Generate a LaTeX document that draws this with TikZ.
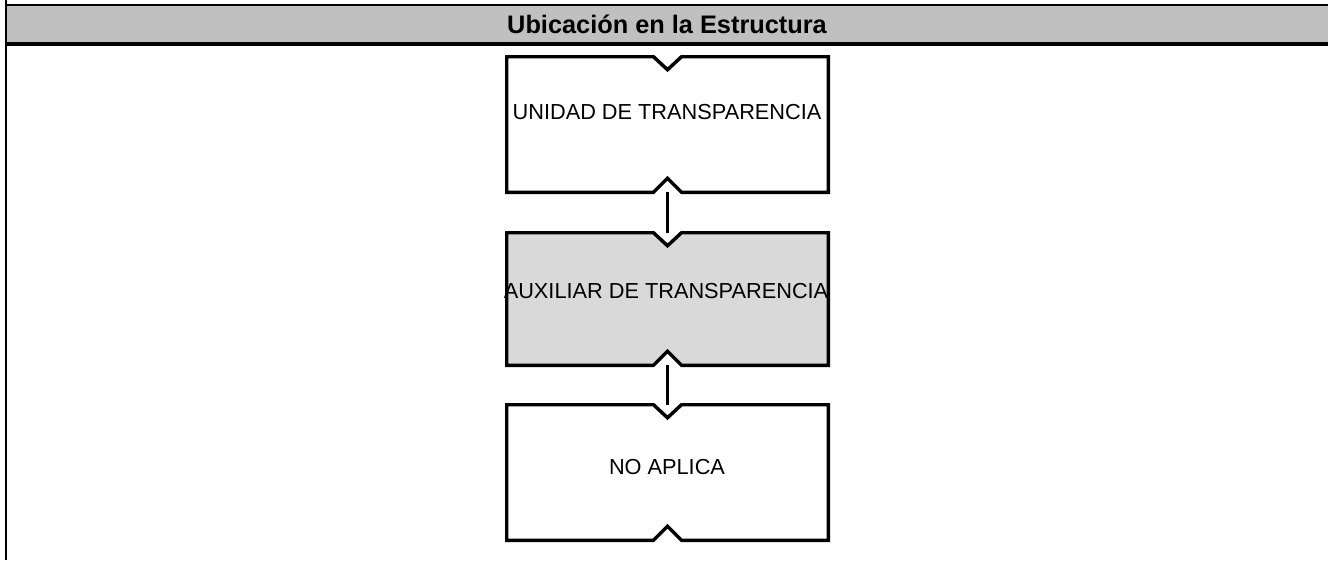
\documentclass[tikz,border=0pt]{standalone}
\usepackage{fontspec}
\setmainfont{Liberation Sans}
\usetikzlibrary{calc}
\definecolor{hdrgray}{HTML}{C0C0C0}
\definecolor{boxgray}{HTML}{D9D9D9}
\newcommand\notchbox[2]{%
  \filldraw[boxline, fill=#2]
    (#1.north west) -- ($(#1.north)+(-14,0)$) -- ($(#1.north)+(0,13)$) -- ($(#1.north)+(14,0)$)
    -- (#1.north east) -- (#1.south east)
    -- ($(#1.south)+(14,0)$) -- ($(#1.south)+(0,-14)$) -- ($(#1.south)+(-14,0)$)
    -- (#1.south west) -- cycle;}
\begin{document}
\begin{tikzpicture}[x=0.75pt,y=-0.75pt,
  boxline/.style={line width=2.6pt, line join=miter},
  conn/.style={line width=2.8pt},
  boxn/.style={rectangle, draw=none, inner sep=0pt, minimum width=240.75pt},
  lbl/.style={font=\fontsize{16.3}{19}\selectfont, inner sep=0pt}]
\useasboundingbox (0,0) rectangle (1328,561);
% header band
\fill[hdrgray] (6,5) rectangle (1328,44);
\draw[line width=1pt] (6,5) -- (1328,5);
\draw[line width=2.4pt] (6,44) -- (1328,44);
\draw[line width=2.2pt] (6,0) -- (6,560);
\node[font=\bfseries\fontsize{19}{22}\selectfont, inner sep=0pt] (title) at (667,24.5) {Ubicación en la Estructura};
% boxes
\node[boxn, minimum height=101.25pt] (b1) at (667.5,124.5) {};
\node[boxn, minimum height=99pt] (b2) at (667.5,299) {};
\node[boxn, minimum height=101.25pt] (b3) at (667.5,472.5) {};
\notchbox{b1}{white}
\notchbox{b2}{boxgray}
\notchbox{b3}{white}
\node[lbl] (t1) at (667,112) {UNIDAD DE TRANSPARENCIA};
\node[lbl] (t2) at (666,291) {AUXILIAR DE TRANSPARENCIA};
\node[lbl] (t3) at (667,467) {NO APLICA};
% connectors
\draw[conn] (b1.south) -- (b2.north);
\draw[conn] (b2.south) -- (b3.north);
\end{tikzpicture}
\end{document}
